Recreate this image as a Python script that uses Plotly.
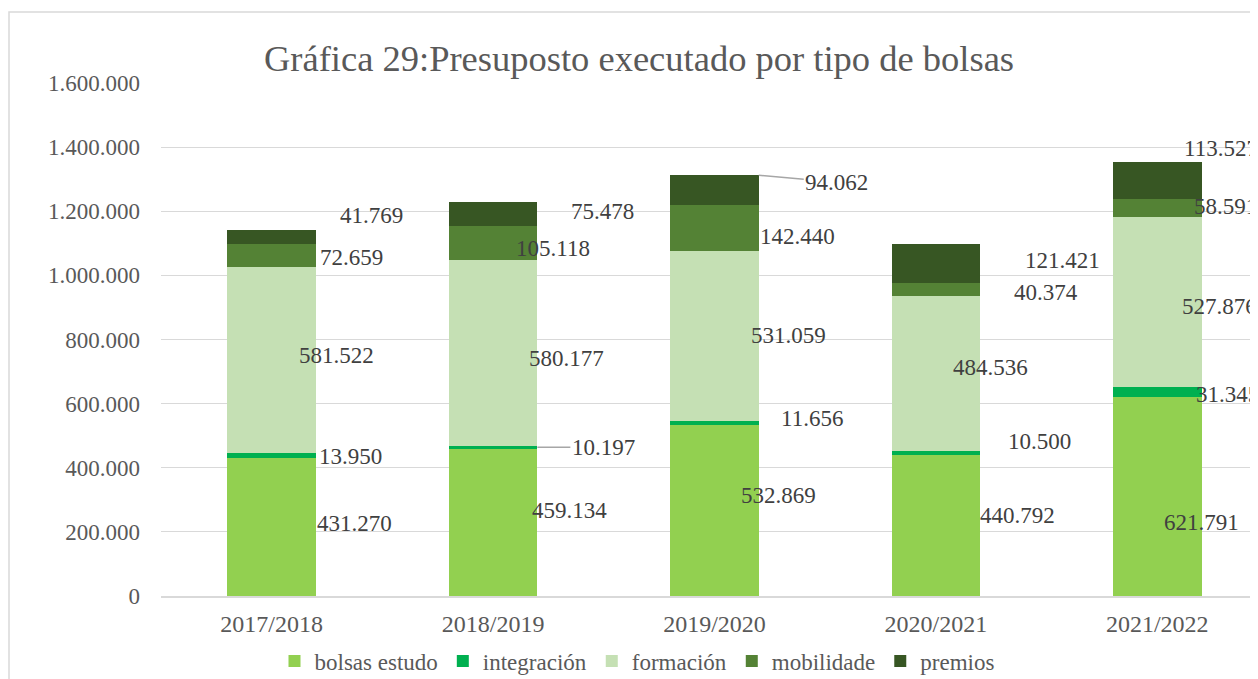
import plotly.graph_objects as go

# ---- data ----
categories = ["2017/2018", "2018/2019", "2019/2020", "2020/2021", "2021/2022"]
series_names = ["bolsas estudo", "integración", "formación", "mobilidade", "premios"]
bolsas_estudo = [431270, 459134, 532869, 440792, 621791]
integracion = [13950, 10197, 11656, 10500, 31345]
formacion = [581522, 580177, 531059, 484536, 527876]
mobilidade = [72659, 105118, 142440, 40374, 58591]
premios = [41769, 75478, 94062, 121421, 113527]
y_ticks = [0, 200000, 400000, 600000, 800000, 1000000, 1200000, 1400000, 1600000]

series_values = [bolsas_estudo, integracion, formacion, mobilidade, premios]
colors = ["#92D050", "#00B050", "#C5E0B4", "#548235", "#375623"]

# label pixel offsets (xshift, yshift) per series per category (style only)
label_shift = [
    [(83, 3), (76, 12), (64, 15), (82, 10), (44, -26)],
    [(79, -1), None, (98, 5), (104, 11), (70, -3)],
    [(65, 5), (73, -6), (74, 1), (55, 6), (62, -5)],
    [(80, -2), (60, -6), (83, -8), (110, -3), (68, 1)],
    [(100, 21), (109, 2), None, (127, 3), (64, 32)],
]
# labels with leader lines: (series idx, category idx) -> (ax, ay, anchor at bar top?)
leader = {(1, 1): (66, 0, False), (4, 2): (78, 7, True)}

font_family = "Liberation Serif"
txt = "#404040"
grey = "#595959"

# page body has an 8px margin; figure is laid out in its own pixel frame
W, H = 1250, 671
ML, MT, MB = 153, 75, 83
PW = W - ML
PH = H - MT - MB

def fmt(v):
    return f"{v:,}".replace(",", ".")

fig = go.Figure()
for name, vals, col in zip(series_names, series_values, colors):
    fig.add_trace(go.Bar(x=list(range(len(categories))), y=vals, name=name,
                         marker=dict(color=col, line=dict(width=0)), width=0.4))

annotations = []
bar_half = 0.2
for j in range(len(categories)):
    base = 0
    for i, vals in enumerate(series_values):
        v = vals[j]
        mid = base + v / 2
        if (i, j) in leader:
            ax, ay, top = leader[(i, j)]
            py = base + v if top else mid
            annotations.append(dict(x=j + bar_half, y=py, xref="x", yref="y",
                                    text=fmt(v), showarrow=True, arrowhead=0,
                                    arrowcolor="#A6A6A6", arrowwidth=1.5,
                                    ax=ax, ay=ay, standoff=0,
                                    font=dict(family=font_family, size=23, color=txt)))
        else:
            xs, ys = label_shift[i][j]
            annotations.append(dict(x=j, y=mid, xref="x", yref="y", text=fmt(v),
                                    showarrow=False, xshift=xs, yshift=ys,
                                    font=dict(family=font_family, size=23, color=txt)))
        base += v

fig.update_layout(
    width=W, height=H,
    margin=dict(l=ML, r=0, t=MT, b=MB, autoexpand=False),
    paper_bgcolor="white", plot_bgcolor="white",
    barmode="stack",
    separators=",.",
    title=dict(text="Gráfica 29:Presuposto executado por tipo de bolsas",
               x=631 / W, xanchor="center", xref="container",
               y=1 - 50 / H, yanchor="middle", yref="container",
               font=dict(family=font_family, size=36.5, color=grey)),
    xaxis=dict(tickmode="array", tickvals=list(range(len(categories))), ticktext=categories,
               range=[-0.5, 4.455], showgrid=False, showline=True,
               linecolor="#D9D9D9", linewidth=1.5, ticks="", ticklabelstandoff=5,
               tickfont=dict(family=font_family, size=24, color=grey)),
    yaxis=dict(range=[0, 1600000], tickvals=y_ticks, tickformat=",.0f",
               showgrid=True, gridcolor="#D9D9D9", gridwidth=1.3, zeroline=False,
               ticks="", ticklabelstandoff=20,
               tickfont=dict(family=font_family, size=23, color=grey)),
    legend=dict(orientation="h", x=(637 - 8 - ML) / PW, xanchor="center",
                y=(588 - 653) / PH, yanchor="middle", bgcolor="rgba(0,0,0,0)",
                font=dict(family=font_family, size=23, color=grey),
                itemwidth=30, traceorder="normal"),
    annotations=annotations,
    shapes=[dict(type="rect", xref="paper", yref="paper",
                 x0=(1 - ML) / PW, x1=1.2, y0=-0.3, y1=(588 - 4) / PH,
                 line=dict(color="#D9D9D9", width=1.5), fillcolor="rgba(0,0,0,0)",
                 layer="below")],
)

fig.write_html("out.html")
